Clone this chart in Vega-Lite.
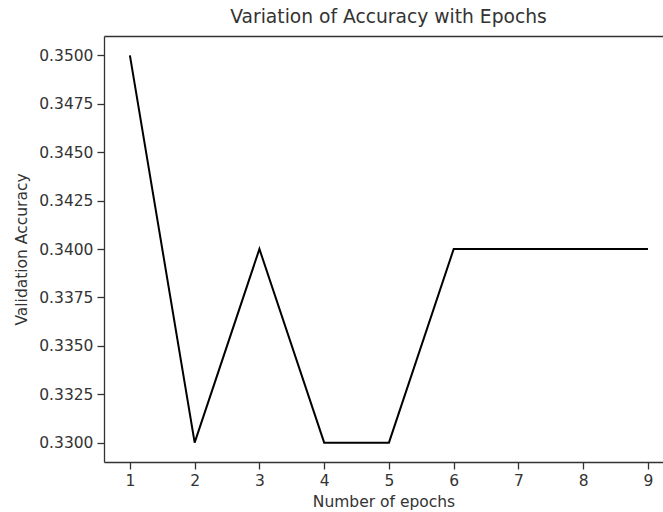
{
  "$schema": "https://vega.github.io/schema/vega-lite/v6.json",
  "autosize": {"type": "none"},
  "width": 559,
  "height": 426,
  "padding": {"left": 104, "top": 36, "right": 0, "bottom": 50},
  "background": "white",
  "config": {
    "font": "DejaVu Sans",
    "view": {"stroke": null},
    "axis": {
      "grid": false,
      "domainColor": "#333333",
      "domainWidth": 1.3,
      "tickColor": "#333333",
      "tickWidth": 1.3,
      "tickSize": 7,
      "labelFont": "DejaVu Sans",
      "labelFontSize": 15.5,
      "labelColor": "#333333",
      "titleFont": "DejaVu Sans",
      "titleFontSize": 15.5,
      "titleFontWeight": "normal",
      "titleColor": "#333333"
    }
  },
  "title": {
    "text": "Variation of Accuracy with Epochs",
    "font": "DejaVu Sans",
    "fontSize": 18.7,
    "fontWeight": "normal",
    "color": "#333333",
    "offset": 9,
    "dx": 5
  },
  "data": {
    "values": [
      {"epoch": 1, "acc": 0.35},
      {"epoch": 2, "acc": 0.33},
      {"epoch": 3, "acc": 0.34},
      {"epoch": 4, "acc": 0.33},
      {"epoch": 5, "acc": 0.33},
      {"epoch": 6, "acc": 0.34},
      {"epoch": 7, "acc": 0.34},
      {"epoch": 8, "acc": 0.34},
      {"epoch": 9, "acc": 0.34}
    ]
  },
  "encoding": {
    "y": {
      "field": "acc",
      "type": "quantitative",
      "scale": {"domain": [0.329, 0.351], "nice": false, "zero": false},
      "axis": {"values": [0.33, 0.3325, 0.335, 0.3375, 0.34, 0.3425, 0.345, 0.3475, 0.35], "format": ".4f", "title": "Validation Accuracy", "labelPadding": 4, "titlePadding": 9}
    }
  },
  "layer": [
    {
      "mark": {"type": "line", "color": "black", "strokeWidth": 2},
      "encoding": {
        "x": {
          "field": "epoch",
          "type": "quantitative",
          "scale": {"domain": [0.6, 9.232], "nice": false, "zero": false},
          "axis": {"values": [1, 2, 3, 4, 5, 6, 7, 8, 9], "format": "d", "title": "Number of epochs", "labelPadding": 4, "titlePadding": 6}
        }
      }
    },
    {
      "mark": {"type": "line", "color": "black", "strokeWidth": 2, "strokeOpacity": 0},
      "encoding": {
        "x": {
          "field": "epoch",
          "type": "quantitative",
          "scale": {"domain": [0.6, 9.232], "nice": false, "zero": false},
          "axis": {"orient": "top", "labels": false, "ticks": false, "title": null}
        }
      }
    }
  ],
  "resolve": {"axis": {"x": "independent"}}
}
